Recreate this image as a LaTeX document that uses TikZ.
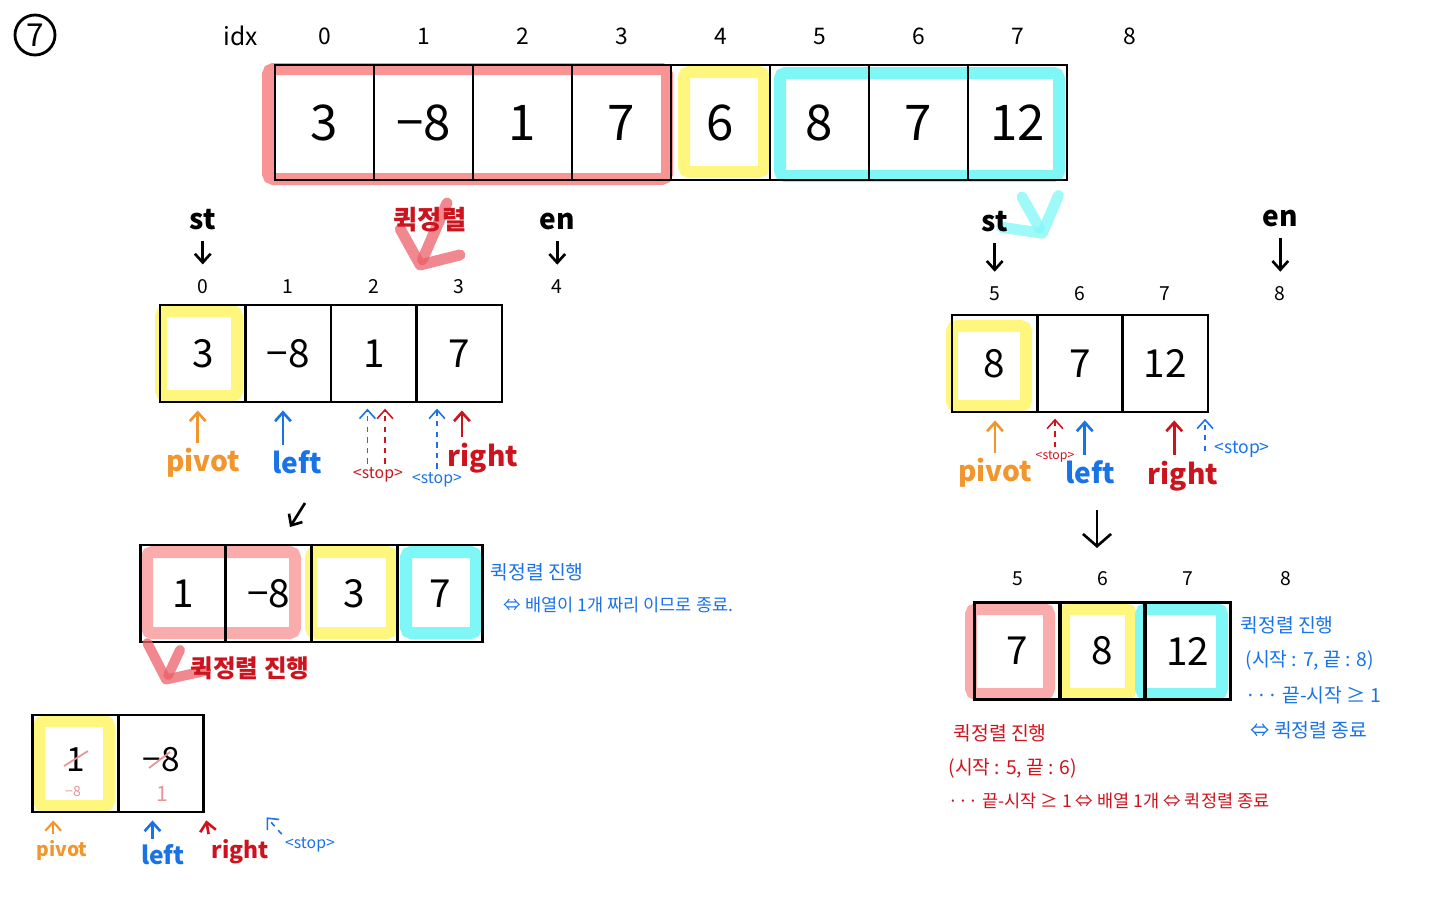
\documentclass[tikz,border=0pt]{standalone}
\usepackage{fontspec}
\setmainfont{Noto Sans CJK KR}
\usetikzlibrary{positioning, arrows.meta}
\definecolor{hlred}{RGB}{248,148,148}
\definecolor{hlpink}{RGB}{250,172,172}
\definecolor{hlyel}{RGB}{255,247,125}
\definecolor{hlcyan}{RGB}{128,247,247}
\definecolor{cpiv}{RGB}{240,150,45}
\definecolor{cleft}{RGB}{25,115,230}
\definecolor{cright}{RGB}{205,20,30}
\definecolor{cmark}{RGB}{236,95,105}

\begin{document}
\begin{tikzpicture}[x=0.02cm, y=-0.02cm, semithick,
    >={Straight Barb[length=5pt,width=9pt]},
    cell/.style={draw, line width=1.6pt, inner sep=0pt, minimum width=1.71cm, minimum height=1.94cm, font=\fontsize{22}{22}\selectfont},
    topcell/.style={cell, line width=1.1pt, minimum width=1.98cm, minimum height=2.3cm, font=\fontsize{28}{28}\selectfont},
    hl/.style={draw=#1, line width=0.24cm, rounded corners=3pt},
    idx/.style={inner sep=1pt, font=\fontsize{11}{11}\selectfont},
    lbl/.style={inner sep=1pt, font=\bfseries\fontsize{16}{16}\selectfont},
    stp/.style={inner sep=1pt, font=\fontsize{9}{9}\selectfont},
    note/.style={anchor=west, inner sep=0pt, font=\fontsize{11}{11}\selectfont},
    ptr/.style={->, line width=1.5pt, shorten >=4pt, shorten <=2pt},
    stptr/.style={ptr, shorten >=7pt, shorten <=5pt},
    dptr/.style={->, line width=0.9pt, dash pattern=on 3pt off 3pt, shorten >=3pt, shorten <=1pt},
    swoop/.style={draw=#1, draw opacity=0.75, line width=0.22cm, line cap=round, line join=round, -{Straight Barb[round, length=0.5cm, width=1.3cm]}}]
  \useasboundingbox (0,0) rectangle (1440,900);
  \node[draw, circle, line width=1.6pt, minimum size=0.8cm, inner sep=0pt, font=\fontsize{18}{18}\selectfont] (num) at (35,35) {7};

  % whole array
  \draw[hl=hlred] (268,69) rectangle (667,179);
  \draw[hl=hlyel] (684,72) rectangle (764,172);
  \draw[hl=hlcyan] (780,73) rectangle (1059,176);
  \foreach \v [count=\i from 0] in {3,−8,1,7,6,8,7,12}
    \node[topcell] (a\i) at ({324.5+99*\i},122.5) {\v};
  \foreach \i in {0,...,7}
    \node[idx, font=\fontsize{13}{13}\selectfont] (ai\i) [above=0.34cm of a\i] {\i};
  \path (ai7) ++(112,0) node[idx, font=\fontsize{13}{13}\selectfont] (ai8) {8};
  \path (ai0) ++(-84,0) node[idx, font=\fontsize{14}{14}\selectfont] (idxl) {idx};

  \draw[swoop=cmark] (447,203) -- (418,270);
  \node[text=cright, font=\bfseries\fontsize{15}{15}\selectfont] (qs1) at (430,220) {퀵정렬};
  \draw[swoop=hlcyan] (1022,197) -- (1045,238);

  % left half
  \draw[hl=hlyel] (161,311) rectangle (237,396);
  \foreach \v [count=\i from 0] in {3,−8,1,7}
    \node[cell] (l\i) at ({202.75+85.5*\i},353.5) {\v};
  \foreach \i in {0,...,3}
    \node[idx] (li\i) [above=0.16cm of l\i] {\i};
  \path (li3) ++(98,0) node[idx] (li4) {4};
  \node[lbl] (st1) [above=0.9cm of li0] {st};
  \node[lbl] (en1) [above=0.9cm of li4] {en};
  \path (st1) edge[stptr] (li0)
        (en1) edge[stptr] (li4);

  \node[lbl, text=cpiv] (piv1) at (203,463) {pivot};
  \node[lbl, text=cleft] (lft1) at (297,462) {left};
  \node[stp, text=cright] (spr1) at (378,475) {<stop>};
  \node[stp, text=cleft] (spb1) at (437,480) {<stop>};
  \node[lbl, text=cright] (rgt1) at (483,458) {right};
  \draw[ptr, cpiv] ([xshift=-3pt]piv1.north) -- ([xshift=-3pt]piv1.north |- l0.south);
  \draw[ptr, cleft] ([xshift=-8pt]lft1.north) -- ([xshift=-8pt]lft1.north |- l1.south);
  \draw[dptr, cleft] ([xshift=-6pt]spr1.north) -- ([xshift=-6pt]spr1.north |- l2.south);
  \draw[dptr, cright] ([xshift=4pt]spr1.north) -- ([xshift=4pt]spr1.north |- l2.south);
  \draw[dptr, cleft] (spb1.north) -- (spb1.north |- l3.south);
  \draw[ptr, cright] ([xshift=-12pt]rgt1.north) -- ([xshift=-12pt]rgt1.north |- l3.south);

  \coordinate (dl1) at (305,503);
  \coordinate (dl2) at (290,527);
  \draw[ptr, shorten >=0pt, shorten <=0pt] (dl1) -- (dl2);

  \draw[hl=hlpink] (147,552) rectangle (295,633);
  \draw[hl=hlyel] (311,552) rectangle (392,633);
  \draw[hl=hlcyan] (406,552) rectangle (476,633);
  \foreach \v [count=\i from 0] in {1,−8,3,7}
    \node[cell] (m\i) at ({182.9+85.75*\i},593.5) {\v};
  \node[note, text=cleft] (nb1) at (490,572) {퀵정렬 진행};
  \node[note, text=cleft, font=\fontsize{10}{10}\selectfont] (nb2) at (503,605) {⇔ 배열이 1개 짜리 이므로 종료.};
  \draw[swoop=cmark, line width=0.2cm] (180,650) -- (164,684);
  \node[note, text=cright, font=\bfseries\fontsize{14}{14}\selectfont] (nr1) at (190,668) {퀵정렬 진행};

  \draw[hl=hlyel] (39,721) rectangle (109,806);
  \foreach \v [count=\i from 0] in {1,−8}
    \node[cell, font=\fontsize{19}{19}\selectfont] (k\i) at ({75.5+85.5*\i},763.5) {\raisebox{5pt}{\v}};
  \draw[cright!45, line width=1pt] (64,766) -- (88,751) (149,768) -- (170,752);
  \node[text=cright!45, inner sep=0pt, font=\fontsize{8}{8}\selectfont] (kx0) at (73,791) {−8};
  \node[text=cright!45, inner sep=0pt, font=\fontsize{12}{12}\selectfont] (kx1) at (162,794) {1};
  \node[lbl, text=cpiv, font=\bfseries\fontsize{11}{11}\selectfont] (piv3) at (62,850) {pivot};
  \node[lbl, text=cleft, font=\bfseries\fontsize{14}{14}\selectfont] (lft3) at (163,855) {left};
  \node[lbl, text=cright, font=\bfseries\fontsize{13}{13}\selectfont] (rgt3) at (240,852) {right};
  \node[stp, text=cleft] (spb3) at (310,845) {<stop>};
  \draw[ptr, cpiv, line width=1.2pt] ([xshift=-5pt]piv3.north) -- ([xshift=-5pt]piv3.north |- k0.south);
  \draw[ptr, cleft] ([xshift=-6pt]lft3.north) -- ([xshift=-6pt]lft3.north |- k1.south);
  \draw[ptr, cright] (rgt3.north west) -- (k1.south east);
  \draw[dptr, cleft] (spb3.north west) -- ([xshift=33pt]k1.south east);

  % right half
  \draw[hl=hlyel] (952,326) rectangle (1026,406);
  \foreach \v [count=\i from 0] in {8,7,12}
    \node[cell] (r\i) at ({994.7+85.3*\i},363.5) {\v};
  \foreach \v [count=\i from 0] in {5,6,7}
    \node[idx] (ri\i) [above=0.22cm of r\i] {\v};
  \path (ri2) ++(115,0) node[idx] (ri3) {8};
  \node[lbl] (st2) [above=1.0cm of ri0] {st};
  \node[lbl] (en2) [above=1.1cm of ri3] {en};
  \path (st2) edge[stptr] (ri0)
        (en2) edge[stptr] (ri3);

  \node[lbl, text=cpiv] (piv2) at (995,473) {pivot};
  \node[stp, text=cright, font=\fontsize{7}{7}\selectfont] (spr2) at (1055,457) {<stop>};
  \node[lbl, text=cleft] (lft2) at (1090,472) {left};
  \node[lbl, text=cright] (rgt2) at (1183,476) {right};
  \node[stp, text=cleft, font=\fontsize{10}{10}\selectfont] (spb2) at (1242,449) {<stop>};
  \draw[ptr, cpiv] (piv2.north) -- (piv2.north |- r0.south);
  \draw[dptr, cright] (spr2.north) -- (spr2.north |- r1.south);
  \draw[ptr, cleft] ([xshift=-3pt]lft2.north) -- ([xshift=-3pt]lft2.north |- r1.south);
  \draw[ptr, cright] ([xshift=-5pt]rgt2.north) -- ([xshift=-5pt]rgt2.north |- r2.south);
  \draw[dptr, cleft] ([xshift=-4pt,yshift=-8pt]spb2.north west) -- ([xshift=-4pt]spb2.north west |- r2.south);

  \coordinate (dr1) at (1097,510);
  \coordinate (dr2) at (1097,548);
  \draw[ptr, -{Straight Barb[length=7pt,width=16pt]}, shorten >=0pt, shorten <=0pt] (dr1) -- (dr2);

  \draw[hl=hlpink] (971,609) rectangle (1049,694);
  \draw[hl=hlyel] (1064,609) rectangle (1131,694);
  \draw[hl=hlcyan] (1141,609) rectangle (1222,694);
  \foreach \v [count=\i from 0] in {7,8,12}
    \node[cell] (q\i) at ({1017.5+85*\i},651) {\v};
  \foreach \v [count=\i from 0] in {5,6,7}
    \node[idx] (qi\i) [above=0.26cm of q\i] {\v};
  \path (qi2) ++(98,0) node[idx] (qi3) {8};

  \node[note, text=cleft] (nb3) at (1240,625) {퀵정렬 진행};
  \node[note, text=cleft] (nb4) at (1245,660) {(시작 : 7, 끝 : 8)};
  \node[note, text=cleft] (nb5) at (1245,695) {··· 끝-시작 ≥ 1};
  \node[note, text=cleft] (nb6) at (1250,730) {⇔ 퀵정렬 종료};
  \node[note, text=cright] (nr2) at (953,733) {퀵정렬 진행};
  \node[note, text=cright] (nr3) at (948,768) {(시작 : 5, 끝 : 6)};
  \node[note, text=cright, font=\fontsize{10}{10}\selectfont] (nr4) at (948,801) {··· 끝-시작 ≥ 1 ⇔ 배열 1개 ⇔ 퀵정렬 종료};
\end{tikzpicture}
\end{document}
